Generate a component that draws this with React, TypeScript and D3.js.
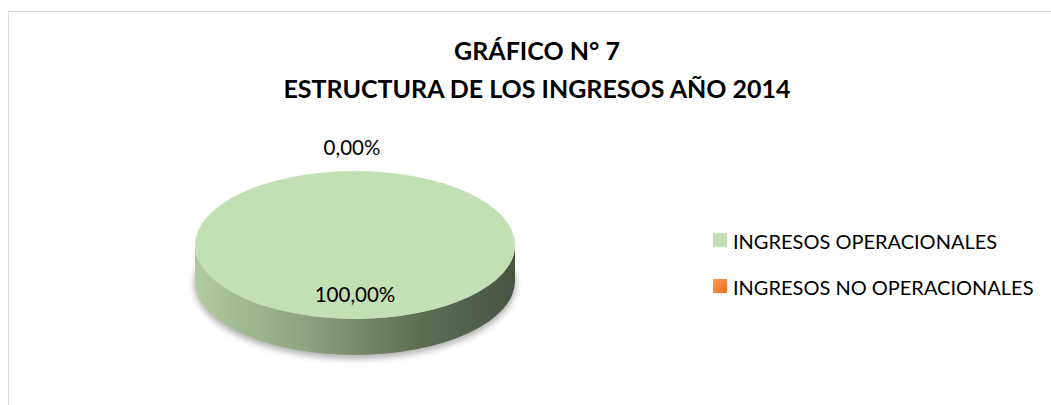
import React from "react";
import * as d3 from "d3";

const categories = ["INGRESOS OPERACIONALES", "INGRESOS NO OPERACIONALES"];
const values = [100, 0];
const labels = ["100,00%", "0,00%"];
const colors = ["#c3dfb4", "#f47d30"];
const titleLines = ["GRÁFICO N° 7", "ESTRUCTURA DE LOS INGRESOS AÑO 2014"];

const W = 1051;
const H = 405;
const cx = 355;
const cy = 245;
const rx = 160;
const ry = 74;
const depth = 36;
const FONT = "Lato, 'Open Sans', sans-serif";

export default function App() {
  const pie = d3.pie<number>().sort(null)(values);
  const ky = ry / rx;
  const proj = (a: number, r: number) => [cx + r * Math.sin(a), cy - r * ky * Math.cos(a)];

  const topPath = (s: d3.PieArcDatum<number>) => {
    if (s.endAngle - s.startAngle <= 0) return "";
    if (s.endAngle - s.startAngle >= 2 * Math.PI - 1e-6) {
      return `M${cx - rx},${cy} A${rx},${ry} 0 1,0 ${cx + rx},${cy} A${rx},${ry} 0 1,0 ${cx - rx},${cy} Z`;
    }
    const p = d3.path();
    p.moveTo(cx, cy);
    const n = 60;
    for (let i = 0; i <= n; i++) {
      const a = s.startAngle + ((s.endAngle - s.startAngle) * i) / n;
      const [x, y] = proj(a, rx);
      p.lineTo(x, y);
    }
    p.closePath();
    return p.toString();
  };

  const sidePath = `M${cx - rx},${cy} L${cx - rx},${cy + depth} A${rx},${ry} 0 0,0 ${cx + rx},${cy + depth} L${cx + rx},${cy} A${rx},${ry} 0 0,1 ${cx - rx},${cy} Z`;

  const labelPos = pie.map((s) => {
    const mid = (s.startAngle + s.endAngle) / 2;
    const isZero = s.endAngle - s.startAngle <= 0;
    const r = isZero ? rx * 1.32 : rx * 0.66;
    const [x, y] = proj(mid, r);
    return { x: isZero ? x - 3 : x, y };
  });

  return (
    <svg width={W} height={H} style={{ position: "absolute", left: 0, top: 0, background: "#fff" }}>
      <defs>
        <linearGradient id="side" x1="0" x2="1" y1="0" y2="0">
          <stop offset="0" stopColor="#b1cb9f" />
          <stop offset="0.35" stopColor="#8da27f" />
          <stop offset="0.7" stopColor="#5e6e55" />
          <stop offset="1" stopColor="#475442" />
        </linearGradient>
        <linearGradient id="orange" x1="0" x2="1" y1="0" y2="1">
          <stop offset="0" stopColor="#fb9a52" />
          <stop offset="1" stopColor="#f07020" />
        </linearGradient>
        <filter id="blur" x="-20%" y="-50%" width="140%" height="200%">
          <feGaussianBlur stdDeviation="3" />
        </filter>
      </defs>
      <rect x={8.5} y={11.5} width={W} height={H} fill="#fff" stroke="#d9d9d9" strokeWidth={1} />
      {titleLines.map((t, i) => (
        <text
          key={i}
          x={537}
          y={60 + i * 38}
          textAnchor="middle"
          fontFamily={FONT}
          fontWeight="bold"
          fontSize={25}
          fill="#000"
        >
          {t}
        </text>
      ))}
      <ellipse cx={cx} cy={cy + depth + 3} rx={rx + 1} ry={ry + 1} fill="#000" opacity={0.3} filter="url(#blur)" />
      <path d={sidePath} fill="url(#side)" />
      {pie.map((s, i) => (
        <path key={i} d={topPath(s)} fill={colors[i]} />
      ))}
      {pie.map((s, i) => (
        <text
          key={i}
          x={labelPos[i].x}
          y={labelPos[i].y}
          textAnchor="middle"
          dominantBaseline="central"
          fontFamily={FONT}
          fontSize={20.5}
          fill="#000"
        >
          {labels[i]}
        </text>
      ))}
      {categories.map((c, i) => (
        <g key={c} transform={`translate(713, ${233 + i * 46})`}>
          <rect width={14} height={14} fill={i === 0 ? colors[0] : "url(#orange)"} />
          <text x={20} y={7.5} dominantBaseline="central" fontFamily={FONT} fontSize={20} fill="#000">
            {c}
          </text>
        </g>
      ))}
    </svg>
  );
}
